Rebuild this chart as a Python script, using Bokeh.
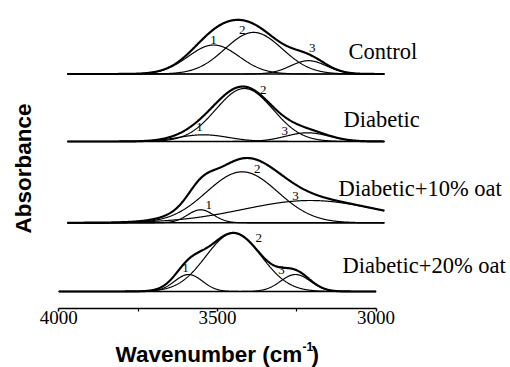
import numpy as np
from math import pi
from bokeh.plotting import figure
from bokeh.models import Range1d, FixedTicker, Label
from bokeh.embed import file_html
from bokeh.resources import INLINE

# ---------------- data ----------------
samples = ["Control", "Diabetic", "Diabetic+10% oat", "Diabetic+20% oat"]
band_names = ["1", "2", "3"]

# fitted band components: centre (cm-1), height (a.u.), width sigma (cm-1)
control_centers = [3512, 3386, 3213]
control_heights = [0.29, 0.416, 0.133]
control_widths = [80, 90, 57]

diabetic_centers = [3544, 3415, 3216]
diabetic_heights = [0.067, 0.53, 0.087]
diabetic_widths = [79, 90, 69]

oat10_centers = [3553, 3422, 3207]
oat10_heights = [0.13, 0.51, 0.223]
oat10_widths = [41, 112, 211]

oat20_centers = [3591, 3449, 3254]
oat20_heights = [0.17, 0.585, 0.17]
oat20_widths = [44, 87, 47]

# recorded spectral window of each trace (cm-1)
range_start = [3973, 3973, 3973, 4000]
range_end = [2974, 2974, 2974, 3000]

x_ticks = [4000, 3500, 3000]
x_minor_ticks = [3750, 3250]

# ---------------- layout ----------------
W, H = 510, 367
PX_PER_WN = 0.3173
X0_PX = 58.3          # canvas x of 4000 cm-1
def px_x(px):
    return 4000 - (px - X0_PX) / PX_PER_WN
def px_y(py):
    return (H - py) / 100.0

AXIS_PY = 307.7
offsets = [px_y(73.5), px_y(141), px_y(222.3), px_y(291)]

all_params = [
    (control_centers, control_heights, control_widths),
    (diabetic_centers, diabetic_heights, diabetic_widths),
    (oat10_centers, oat10_heights, oat10_widths),
    (oat20_centers, oat20_heights, oat20_widths),
]

p = figure(width=W, height=H, output_backend="svg", toolbar_location=None,
           x_range=Range1d(px_x(0), px_x(W)), y_range=Range1d(0, px_y(0)),
           y_axis_location=None,
           min_border_left=0, min_border_right=0, min_border_top=0,
           min_border_bottom=0)
p.grid.visible = False
p.outline_line_color = None
p.background_fill_color = "white"
p.border_fill_color = "white"

xa = p.xaxis[0]
xa.fixed_location = px_y(AXIS_PY)
xa.ticker = FixedTicker(ticks=x_ticks, minor_ticks=x_minor_ticks)
xa.bounds = (3000, 4000)
xa.axis_line_color = "black"
xa.axis_line_width = 1.5
xa.major_tick_line_color = "black"
xa.major_tick_line_width = 1.5
xa.major_tick_in = 0
xa.major_tick_out = 3
xa.minor_tick_line_color = "black"
xa.minor_tick_line_width = 1.2
xa.minor_tick_in = 0
xa.minor_tick_out = 3
xa.major_label_text_font = "Liberation Serif"
xa.major_label_text_font_size = "19px"
xa.major_label_text_color = "black"
xa.major_label_standoff = 0

def gauss(x, c, h, w):
    return h * np.exp(-(x - c) ** 2 / (2.0 * w ** 2))

for (cs, hs, ws), off, xs0, xs1 in zip(all_params, offsets, range_start, range_end):
    x = np.linspace(xs0, xs1, 700)
    total = np.zeros_like(x)
    p.line([xs0, xs1], [off, off], line_color="black", line_width=1.6)
    for c, h, w in zip(cs, hs, ws):
        comp = gauss(x, c, h, w)
        total += comp
        p.line(x, comp + off, line_color="black", line_width=1.2)
    p.line(x, total + off, line_color="black", line_width=2.2)

def add_text(px, py, text, size, font="Liberation Serif", align="left",
             bold=False, angle=0.0):
    p.add_layout(Label(x=px_x(px), y=px_y(py), text=text, text_align=align,
                       text_baseline="middle", text_font=font,
                       text_font_style="bold" if bold else "normal",
                       text_font_size=size, text_color="black", angle=angle))

# sample names
name_pos = [(348, 51), (343, 119), (338, 187.5), (342, 264.7)]
for name, (px, py) in zip(samples, name_pos):
    add_text(px, py, name, "22.5px")

# band numbers
band_pos = [
    [(213, 39.3), (241.7, 29.3), (311.7, 47.3)],
    [(199, 126), (262.7, 89.3), (284.3, 130)],
    [(208.3, 204.3), (256.7, 168.3), (295, 195.7)],
    [(185, 267.3), (258.3, 237.3), (281, 269.3)],
]
for row in band_pos:
    for lab, (px, py) in zip(band_names, row):
        add_text(px, py, lab, "13px", align="center")

# y title
add_text(23, 168, "Absorbance", "22.5px", font="Liberation Sans", align="center",
         bold=True, angle=pi / 2)

# x title with superscript
add_text(115, 354, "Wavenumber (cm", "22.5px", font="Liberation Sans", bold=True)
add_text(302, 346, "-1", "12px", font="Liberation Sans", bold=True)
add_text(311, 354, ")", "22.5px", font="Liberation Sans", bold=True)

open("out.html", "w").write(file_html(p, INLINE))
